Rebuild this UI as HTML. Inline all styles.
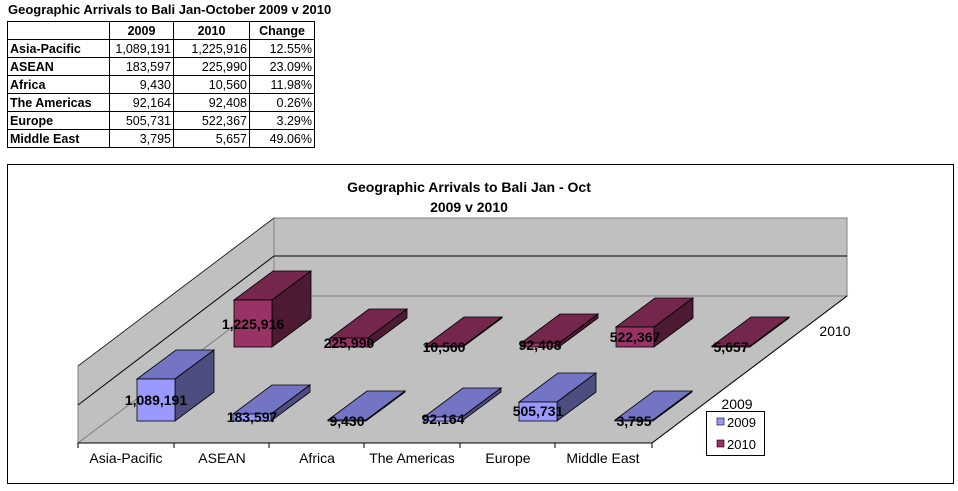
<!DOCTYPE html>
<html><head><meta charset="utf-8"><style>
body{margin:0;background:#fff;width:958px;height:491px;overflow:hidden;font-family:"Liberation Sans",Arial,sans-serif}
.t{position:absolute;left:8px;top:2px;font-weight:bold;font-size:13px}
table{position:absolute;left:7px;top:21px;border-collapse:collapse;font-size:12.5px}
td{border:1px solid #000;height:17px;padding:0 2px;text-align:right}
td:first-child{text-align:left;font-weight:bold;width:97px}
td:nth-child(2){width:59px}td:nth-child(3){width:71px}td:nth-child(4){width:60px}
tr:first-child td{text-align:center;font-weight:bold}
svg{position:absolute;left:0;top:0}
</style></head><body>
<div class="t">Geographic Arrivals to Bali Jan-October 2009 v 2010</div>
<table>
<tr><td></td><td>2009</td><td>2010</td><td>Change</td></tr>
<tr><td>Asia-Pacific</td><td>1,089,191</td><td>1,225,916</td><td>12.55%</td></tr>
<tr><td>ASEAN</td><td>183,597</td><td>225,990</td><td>23.09%</td></tr>
<tr><td>Africa</td><td>9,430</td><td>10,560</td><td>11.98%</td></tr>
<tr><td>The Americas</td><td>92,164</td><td>92,408</td><td>0.26%</td></tr>
<tr><td>Europe</td><td>505,731</td><td>522,367</td><td>3.29%</td></tr>
<tr><td>Middle East</td><td>3,795</td><td>5,657</td><td>49.06%</td></tr>
</table>
<svg width="958" height="491" font-family="Liberation Sans, Arial, sans-serif">
<rect x="7.5" y="164.5" width="946" height="319" fill="#fff" stroke="#000"/>
<text x="469" y="192" font-size="14" font-weight="bold" text-anchor="middle">Geographic Arrivals to Bali Jan - Oct</text>
<text x="469" y="212" font-size="14" font-weight="bold" text-anchor="middle">2009 v 2010</text>
<rect x="274" y="218" width="573" height="78" fill="#c0c0c0" stroke="#808080"/>
<polygon points="274,218 274,296 78,443 78,366" fill="#c0c0c0" stroke="#808080"/>
<polygon points="78,443 652,443 847,296 274,296" fill="#c0c0c0" stroke="#808080"/>
<line x1="274" y1="256" x2="847" y2="256" stroke="#000"/>
<line x1="274" y1="256" x2="78" y2="405" stroke="#000"/>
<line x1="274" y1="218" x2="78" y2="366" stroke="#000" stroke-width="0.6"/>
<line x1="78" y1="443" x2="652" y2="443" stroke="#000"/>
<line x1="652" y1="443" x2="847" y2="296" stroke="#000"/>
<g stroke="#000">
<line x1="78" y1="443" x2="78" y2="448"/><line x1="174" y1="443" x2="174" y2="448"/><line x1="269" y1="443" x2="269" y2="448"/><line x1="364" y1="443" x2="364" y2="448"/><line x1="460" y1="443" x2="460" y2="448"/><line x1="555" y1="443" x2="555" y2="448"/><line x1="652" y1="443" x2="652" y2="448"/>
</g>
<g stroke="#000" stroke-width="0.8">
<g fill="#74264d"><polygon points="234,300 272,300 311,271 273,271"/><polygon points="330,338 368,338 407,309 369,309"/><polygon points="425,346 463,346 502,317 464,317"/><polygon points="521,343 559,343 598,314 560,314"/><polygon points="616,327 654,327 693,298 655,298"/><polygon points="712,346 750,346 789,317 751,317"/></g>
<g fill="#4d1a33"><polygon points="272,300 272,347 311,318 311,271"/><polygon points="368,338 368,347 407,318 407,309"/><polygon points="463,346 463,347 502,318 502,317"/><polygon points="559,343 559,347 598,318 598,314"/><polygon points="654,327 654,347 693,318 693,298"/><polygon points="750,346 750,347 789,318 789,317"/></g>
<g fill="#993366"><rect x="234" y="300" width="38" height="47"/><rect x="330" y="338" width="38" height="9"/><rect x="425" y="346" width="38" height="1"/><rect x="521" y="343" width="38" height="4"/><rect x="616" y="327" width="38" height="20"/><rect x="712" y="346" width="38" height="1"/></g>
<g fill="#7474c4"><polygon points="137,379 175,379 214,350 176,350"/><polygon points="233,414 271,414 310,385 272,385"/><polygon points="328,420 366,420 405,391 367,391"/><polygon points="424,417 462,417 501,388 463,388"/><polygon points="519,402 557,402 596,373 558,373"/><polygon points="615,420 653,420 692,391 654,391"/></g>
<g fill="#4d4d80"><polygon points="175,379 175,421 214,392 214,350"/><polygon points="271,414 271,421 310,392 310,385"/><polygon points="366,420 366,421 405,392 405,391"/><polygon points="462,417 462,421 501,392 501,388"/><polygon points="557,402 557,421 596,392 596,373"/><polygon points="653,420 653,421 692,392 692,391"/></g>
<g fill="#9999ff"><rect x="137" y="379" width="38" height="42"/><rect x="233" y="414" width="38" height="7"/><rect x="328" y="420" width="38" height="1"/><rect x="424" y="417" width="38" height="4"/><rect x="519" y="402" width="38" height="19"/><rect x="615" y="420" width="38" height="1"/></g>
</g>
<g font-size="14" font-weight="bold" text-anchor="middle">
<text x="253" y="329">1,225,916</text><text x="349" y="348">225,990</text><text x="444" y="352">10,560</text><text x="540" y="350">92,408</text><text x="635" y="342">522,367</text><text x="731" y="352">5,657</text>
<text x="156" y="405">1,089,191</text><text x="252" y="422">183,597</text><text x="347" y="426">9,430</text><text x="443" y="424">92,164</text><text x="538" y="416">505,731</text><text x="634" y="426">3,795</text>
</g>
<g font-size="14" text-anchor="middle">
<text x="126" y="463">Asia-Pacific</text><text x="222" y="463">ASEAN</text><text x="317" y="463">Africa</text><text x="412" y="463">The Americas</text><text x="508" y="463">Europe</text><text x="603" y="463">Middle East</text>
<text x="835" y="336">2010</text><text x="737" y="409">2009</text>
</g>
<rect x="706.5" y="411.5" width="58" height="44" fill="#fff" stroke="#000"/>
<rect x="717" y="418" width="7" height="7" fill="#9999ff" stroke="#000" stroke-width="0.6"/>
<rect x="717" y="440" width="7" height="7" fill="#993366" stroke="#000" stroke-width="0.6"/>
<text x="727" y="427" font-size="13">2009</text>
<text x="727" y="449" font-size="13">2010</text>
</svg>
</body></html>
